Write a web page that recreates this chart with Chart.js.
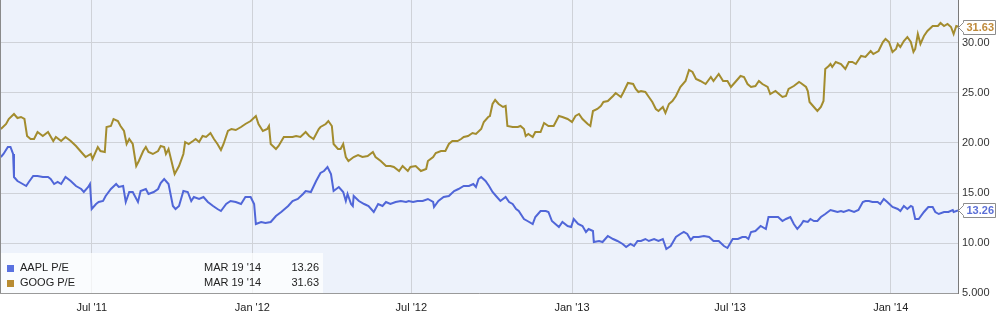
<!DOCTYPE html>
<html>
<head>
<meta charset="utf-8">
<script src="https://cdn.jsdelivr.net/npm/chart.js@4/dist/chart.umd.min.js"></script>
<style>
  html, body { margin: 0; padding: 0; background: #fff; }
  canvas { display: block; }
</style>
</head>
<body>
<canvas id="peChart" width="1005" height="319"></canvas>
<script>
// days counted from the first session, 2011-03-19
const startDate = '2011-03-19';
const lastDateLabel = "MAR 19 '14";

const aaplDay = [0,3,8,11,14,15,19,23,29,32,37,42,48,54,57,61,65,69,74,80,86,92,95,100,102,104,109,112,117,120,126,132,135,140,143,147,151,157,160,166,169,175,180,183,187,192,197,200,204,209,214,218,221,227,232,237,243,248,252,258,263,269,275,280,286,290,292,298,303,309,315,321,329,334,340,346,349,355,361,366,370,374,378,381,387,392,395,397,401,403,404,410,416,421,427,432,437,441,446,452,458,464,467,472,477,483,489,495,496,501,507,513,519,524,530,536,541,544,547,550,555,559,563,567,572,578,582,586,590,593,599,603,609,612,618,624,627,631,635,639,643,649,653,656,661,666,670,673,678,679,685,689,695,701,706,712,716,721,725,729,733,738,742,748,753,758,762,767,773,778,782,786,790,793,799,805,811,816,822,828,832,838,844,849,853,856,859,864,870,876,879,884,890,895,899,904,908,912,916,919,924,927,931,935,939,944,950,954,958,962,965,971,977,982,987,990,994,998,1004,1007,1011,1015,1021,1027,1030,1034,1038,1042,1044,1047,1051,1057,1062,1067,1070,1074,1080,1085,1090,1091,1096];
const aaplPE = [18.6,18.9,19.6,19.6,18.9,16.6,16.2,16.0,15.7,16.1,16.7,16.7,16.6,16.6,16.4,15.9,16.1,15.9,16.6,16.2,15.7,15.4,15.1,15.6,15.9,13.4,13.9,14.1,14.2,14.7,15.4,15.9,15.6,15.7,14.1,15.1,15.1,14.1,15.2,15.4,14.9,15.1,15.4,16.0,16.4,15.9,13.7,13.4,13.7,15.2,15.1,14.2,14.6,14.4,14.6,14.1,13.7,13.4,13.2,13.9,14.2,14.1,13.9,14.6,14.6,13.9,11.9,12.1,12.0,12.1,12.7,13.1,13.7,14.2,14.4,14.9,15.2,15.1,16.2,17.0,17.2,17.6,16.9,15.2,15.6,15.1,14.2,14.9,13.9,13.7,14.7,14.2,13.9,13.7,13.1,13.9,13.7,14.1,13.9,14.1,14.2,14.1,14.2,14.1,14.2,14.2,14.4,14.1,13.6,14.2,14.6,14.7,15.2,15.4,15.7,15.7,15.9,15.6,16.4,16.6,16.2,15.7,15.1,14.7,14.2,14.6,14.1,13.9,13.4,13.2,12.4,12.2,11.9,12.6,13.2,13.2,13.1,12.2,11.9,11.6,12.1,11.7,11.6,12.4,11.9,11.7,11.1,11.4,11.2,10.1,10.2,10.1,10.7,10.4,10.2,9.9,9.6,9.9,9.7,10.2,10.2,10.4,10.2,10.4,10.2,10.4,9.4,9.7,10.6,10.9,11.1,10.9,10.3,10.6,10.6,10.7,10.6,10.2,10.2,9.7,9.5,10.4,10.4,10.6,10.6,10.4,11.1,11.2,11.7,11.4,12.6,12.6,12.6,12.2,12.4,12.6,11.9,11.4,11.8,12.2,12.1,12.4,12.2,12.2,12.6,12.9,13.3,13.2,13.1,13.2,13.1,13.3,13.1,13.3,14.1,14.2,14.2,14.1,14.1,13.9,14.4,14.1,13.6,13.4,13.2,13.7,13.4,13.7,13.6,12.4,12.4,13.1,13.6,13.6,13.1,12.9,13.1,13.1,13.3,13.1,13.26];

const googDay = [0,6,9,15,19,23,27,30,34,38,42,48,54,60,63,69,74,80,86,92,97,103,105,111,114,119,121,126,129,134,137,141,144,147,151,155,158,163,166,169,174,180,183,187,189,192,197,199,204,209,211,215,220,223,227,231,235,240,244,248,252,255,260,264,269,275,280,286,292,295,300,305,307,309,315,318,324,329,334,338,343,349,353,358,364,366,372,375,379,381,386,389,392,395,398,404,409,414,420,426,429,435,441,446,450,456,460,466,469,475,481,487,489,495,498,504,509,513,517,523,527,530,535,540,544,550,553,558,560,563,566,570,575,578,580,586,592,595,599,601,604,609,612,618,622,627,633,639,643,649,654,658,662,666,672,675,678,683,687,690,695,701,704,710,713,718,724,727,730,733,738,742,746,750,753,758,761,765,769,773,778,784,788,792,796,801,807,813,816,822,827,832,836,841,847,851,855,859,864,868,872,878,881,887,891,895,899,902,908,914,916,922,924,926,931,935,939,942,944,948,950,952,956,962,967,971,975,979,985,990,996,999,1005,1010,1013,1017,1021,1025,1027,1030,1034,1038,1042,1045,1047,1050,1053,1057,1061,1067,1073,1076,1080,1084,1088,1091,1094,1096];
const googPE = [21.4,21.9,22.4,22.9,22.5,22.6,22.4,20.7,20.4,20.4,21.1,20.7,21.1,20.2,20.6,20.2,20.6,20.2,19.7,19.1,18.6,18.9,18.4,19.6,19.2,19.1,21.6,21.7,22.4,22.2,21.7,21.2,19.9,20.4,19.9,17.7,18.2,19.2,19.6,19.1,18.9,19.2,19.7,19.6,18.9,19.4,17.6,16.9,17.7,18.9,20.1,19.9,20.2,20.4,20.1,20.7,20.6,21.0,20.4,19.9,19.3,19.9,21.2,21.4,21.3,21.6,21.9,22.2,22.7,21.9,21.2,21.4,21.7,19.9,19.4,19.7,20.6,20.6,20.6,20.7,20.6,21.1,20.7,20.4,21.4,21.6,21.9,22.2,21.7,19.9,19.4,19.4,19.9,18.6,18.2,18.6,18.8,18.6,18.7,19.1,18.6,18.2,17.7,17.7,17.6,17.2,17.7,17.2,17.6,17.7,17.2,17.4,18.2,18.6,19.0,19.2,19.2,19.9,20.2,20.2,20.4,20.6,20.7,21.0,20.9,21.4,22.1,22.6,22.7,23.9,24.3,23.9,23.6,23.7,21.7,21.6,21.6,21.7,21.4,20.7,20.9,20.6,21.1,21.1,22.0,21.7,21.7,22.7,22.6,22.4,22.1,22.7,22.9,22.4,21.9,21.7,23.2,23.4,23.7,24.1,24.2,24.7,25.0,24.6,25.1,26.0,25.9,25.4,25.1,25.2,25.1,24.6,24.1,23.4,23.2,23.6,23.0,23.9,24.2,24.7,25.6,26.2,27.3,27.1,26.4,26.2,25.9,26.6,26.2,26.9,26.2,26.2,25.6,26.1,26.7,26.6,25.9,25.6,25.7,26.2,25.9,25.6,24.9,25.2,24.9,24.6,24.7,25.4,25.7,26.1,26.0,25.6,25.2,24.1,23.6,23.2,23.6,24.2,27.4,27.7,27.9,27.6,28.1,27.9,27.4,28.1,28.1,27.9,28.7,28.6,29.2,28.9,29.2,30.1,30.4,30.1,29.1,29.4,29.9,29.6,30.2,30.6,30.1,29.1,29.4,30.9,29.9,30.7,31.2,31.7,31.7,32.0,31.7,31.9,31.6,30.9,31.7,31.63];

const xTickDates = ['2011-07-01','2012-01-01','2012-07-01','2013-01-01','2013-07-01','2014-01-01'];
const xTickLabels = ["Jul '11","Jan '12","Jul '12","Jan '13","Jul '13","Jan '14"];
const yTickValues = [5,10,15,20,25,30];
const yTickLabels = ['5.000','10.00','15.00','20.00','25.00','30.00'];

const seriesNames = ['AAPL P/E','GOOG P/E'];
const lineColors = ['#5066d8','#a38c2e'];
const swatchColors = ['#5a72e0','#b88c32'];
const badgeColors = ['#5b6fd6','#bf8a3a'];

function dayOf(s) {
  return Math.round((Date.parse(s) - Date.parse(startDate)) / 86400000);
}
const xTickDays = xTickDates.map(dayOf);

function toPoints(days, vals) {
  return days.map((d, i) => ({ x: d, y: vals[i] }));
}

const FONT = "'Liberation Sans', Arial, sans-serif";

const frame = {
  id: 'frame',
  beforeDraw(chart) {
    const { ctx, chartArea: a } = chart;
    ctx.save();
    ctx.fillStyle = '#ffffff';
    ctx.fillRect(0, 0, chart.width, chart.height);
    ctx.fillStyle = '#edf2fb';
    ctx.fillRect(a.left, a.top, a.right - a.left, a.bottom - a.top);
    ctx.restore();
  },
  afterDatasetsDraw(chart) {
    const { ctx, chartArea: a } = chart;
    ctx.save();
    // left edge
    ctx.strokeStyle = '#8a8a8a';
    ctx.lineWidth = 1;
    ctx.beginPath();
    ctx.moveTo(a.left + 0.5, a.top);
    ctx.lineTo(a.left + 0.5, a.bottom);
    ctx.stroke();

    // legend panel
    ctx.fillStyle = 'rgba(255,255,255,0.72)';
    ctx.fillRect(a.left + 1, a.bottom - 40, 322, 40);
    ctx.font = '11px ' + FONT;
    ctx.textBaseline = 'middle';
    chart.data.datasets.forEach((ds, i) => {
      const y = a.bottom - 25 + i * 15;
      const last = ds.data[ds.data.length - 1].y;
      ctx.fillStyle = swatchColors[i];
      ctx.fillRect(a.left + 7, y - 3, 7, 7);
      ctx.fillStyle = '#222';
      ctx.textAlign = 'left';
      ctx.fillText(ds.label, a.left + 20, y);
      ctx.fillText(lastDateLabel, a.left + 204, y);
      ctx.textAlign = 'right';
      ctx.fillText(last.toFixed(2), a.left + 319, y);
    });
    ctx.restore();
  },
  afterDraw(chart) {
    const { ctx, chartArea: a } = chart;
    const ys = chart.scales.y;
    ctx.save();
    ctx.font = 'bold 11px ' + FONT;
    ctx.textBaseline = 'middle';
    ctx.textAlign = 'left';
    chart.data.datasets.forEach((ds, i) => {
      const last = ds.data[ds.data.length - 1].y;
      const y = Math.round(ys.getPixelForValue(last)) + 0.5;
      const x0 = a.right + 0.5;
      ctx.beginPath();
      ctx.moveTo(x0, y);
      ctx.lineTo(x0 + 5, y - 5);
      ctx.lineTo(x0 + 5, y - 7);
      ctx.lineTo(x0 + 37, y - 7);
      ctx.lineTo(x0 + 37, y + 7);
      ctx.lineTo(x0 + 5, y + 7);
      ctx.lineTo(x0 + 5, y + 5);
      ctx.closePath();
      ctx.fillStyle = '#ffffff';
      ctx.fill();
      ctx.strokeStyle = '#8c8c8c';
      ctx.lineWidth = 1;
      ctx.stroke();
      ctx.fillStyle = badgeColors[i];
      ctx.fillText(last.toFixed(2), x0 + 8, y);
    });
    ctx.restore();
  }
};

new Chart(document.getElementById('peChart').getContext('2d'), {
  type: 'line',
  data: {
    datasets: [
      {
        label: seriesNames[0],
        data: toPoints(aaplDay, aaplPE),
        borderColor: lineColors[0],
        borderWidth: 2,
        pointRadius: 0,
        tension: 0
      },
      {
        label: seriesNames[1],
        data: toPoints(googDay, googPE),
        borderColor: lineColors[1],
        borderWidth: 2,
        pointRadius: 0,
        tension: 0
      }
    ]
  },
  plugins: [frame],
  options: {
    responsive: false,
    animation: false,
    events: [],
    layout: { padding: 0 },
    plugins: {
      legend: { display: false },
      tooltip: { enabled: false }
    },
    scales: {
      x: {
        type: 'linear',
        min: -1,
        max: 1096,
        afterBuildTicks: s => { s.ticks = xTickDays.map(v => ({ value: v })); },
        afterFit: s => { s.height = 26; s.paddingLeft = 0; s.paddingRight = 0; },
        grid: { color: '#cfd2d8', drawTicks: false, tickLength: 0 },
        border: { color: '#9a9a9a' },
        ticks: {
          padding: 8,
          maxRotation: 0,
          autoSkip: false,
          color: '#222',
          font: { size: 11, family: FONT },
          callback: (v, i) => xTickLabels[i]
        }
      },
      y: {
        position: 'right',
        min: 5,
        max: 34.3,
        afterBuildTicks: s => { s.ticks = yTickValues.map(v => ({ value: v })); },
        afterFit: s => { s.width = 47; s.paddingTop = 0; s.paddingBottom = 0; },
        grid: { color: '#cfd2d8', drawTicks: false, tickLength: 0 },
        border: { color: '#7a7a7a' },
        ticks: {
          padding: 4,
          color: '#333',
          font: { size: 11, family: FONT },
          callback: (v, i) => yTickLabels[i]
        }
      }
    }
  }
});
</script>
</body>
</html>
